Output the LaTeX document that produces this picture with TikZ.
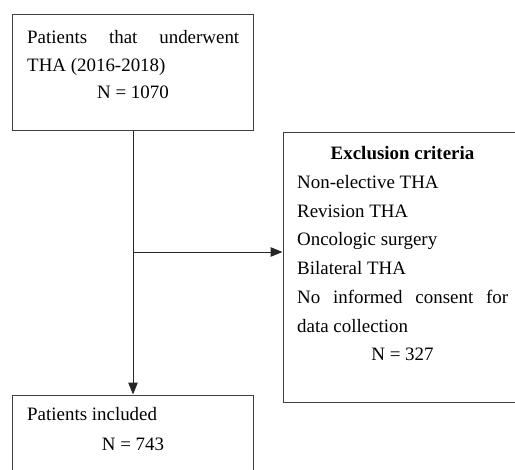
\documentclass[tikz,border=0pt]{standalone}
\usepackage{fontspec}
\setmainfont{Liberation Serif}
\usetikzlibrary{arrows.meta}
\tikzset{>={Triangle[length=12bp,width=9.5bp]}}

\begin{document}
\begin{tikzpicture}[x=1bp,y=-1bp,
    box/.style={draw=black!75,line width=1bp,minimum width=240bp,inner sep=0pt},
    txt/.style={inner sep=0pt,font=\fontsize{19}{28.8}\selectfont},
    flow/.style={draw=black!85,line width=1bp,->}]
  \clip (0,0) rectangle (515,470);

  % boxes
  \node[box,minimum height=116bp] (start) at (133,73) {};
  \node[box,minimum width=239bp,minimum height=269bp] (excl) at (402.5,267.5) {};
  \node[box,minimum height=100bp] (incl) at (133,445) {};

  % texts (multi-line nodes sit on their last line)
  \node[txt,anchor=base west,align=left] (starttxt) at (27,72)
    {\makebox[212bp][s]{Patients that underwent}\\THA (2016-2018)};
  \node[txt,anchor=base] (startn) at (133,99) {N = 1070};
  \node[txt,anchor=base,font=\fontsize{19}{28.8}\selectfont\bfseries] (excltitle) at (402.5,160) {Exclusion criteria};
  \node[txt,anchor=base west,align=left] (excltxt) at (297,332)
    {Non-elective THA\\Revision THA\\Oncologic surgery\\Bilateral THA\\
     \makebox[211bp][s]{No informed consent for}\\data collection};
  \node[txt,anchor=base] (excln) at (402.5,360) {N = 327};
  \node[txt,anchor=base west] (incltxt) at (27,420) {Patients included};
  \node[txt,anchor=base] (incln) at (133,450) {N = 743};

  % arrows
  \coordinate (split) at (133,252);
  \draw[flow] (start.south) -- (incl.north);
  \draw[flow] (split) -- (split -| excl.west);
\end{tikzpicture}
\end{document}
